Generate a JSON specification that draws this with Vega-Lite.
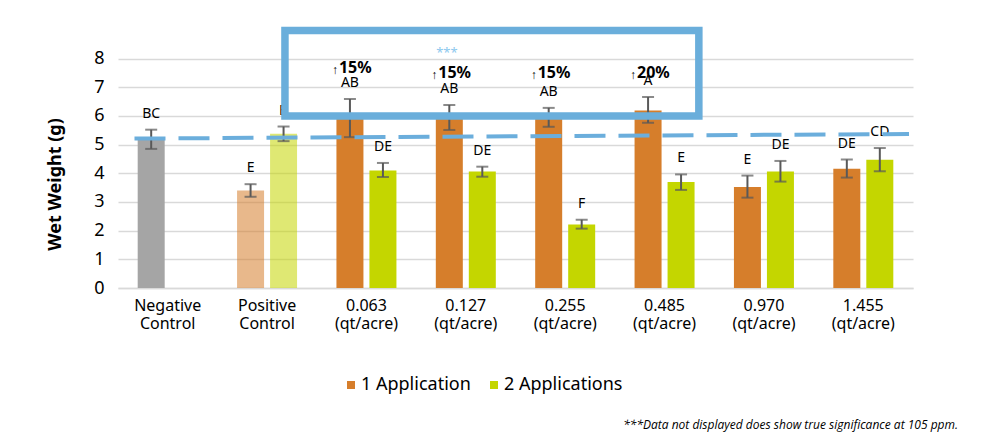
{
  "$schema": "https://vega.github.io/schema/vega-lite/v6.json",
  "autosize": {"type": "none"},
  "width": 795,
  "height": 261,
  "padding": {"left": 118, "top": 27, "right": 76, "bottom": 157},
  "background": "white",
  "config": {
    "font": "Noto Sans",
    "view": {"stroke": null},
    "axisY": {"titleFontSize": 18, "titleFontWeight": "bold", "titleFont": "Noto Sans"}
  },
  "title": {
    "text": "***Data not displayed does show true significance at 105 ppm.",
    "orient": "bottom",
    "anchor": "end",
    "fontSize": 12,
    "fontStyle": "italic",
    "fontWeight": "normal",
    "font": "Open Sans",
    "color": "#000000",
    "offset": 26,
    "dx": 45
  },
  "datasets": {
    "bars": [
      {"cat": "Negative Control", "series": "1 Application", "type": "neg", "value": 5.2, "lo": 4.85, "hi": 5.52, "letter": "BC"},
      {"cat": "Positive Control", "series": "1 Application", "type": "pos", "value": 3.4, "lo": 3.18, "hi": 3.62, "letter": "E"},
      {"cat": "Positive Control", "series": "2 Applications", "type": "pos", "value": 5.38, "lo": 5.12, "hi": 5.63, "letter": "B"},
      {"cat": "0.063 (qt/acre)", "series": "1 Application", "type": "trt", "value": 5.93, "lo": 5.26, "hi": 6.59, "letter": "AB"},
      {"cat": "0.063 (qt/acre)", "series": "2 Applications", "type": "trt", "value": 4.1, "lo": 3.87, "hi": 4.36, "letter": "DE"},
      {"cat": "0.127 (qt/acre)", "series": "1 Application", "type": "trt", "value": 5.95, "lo": 5.51, "hi": 6.38, "letter": "AB"},
      {"cat": "0.127 (qt/acre)", "series": "2 Applications", "type": "trt", "value": 4.06, "lo": 3.88, "hi": 4.23, "letter": "DE"},
      {"cat": "0.255 (qt/acre)", "series": "1 Application", "type": "trt", "value": 5.95, "lo": 5.62, "hi": 6.28, "letter": "AB"},
      {"cat": "0.255 (qt/acre)", "series": "2 Applications", "type": "trt", "value": 2.21, "lo": 2.07, "hi": 2.38, "letter": "F"},
      {"cat": "0.485 (qt/acre)", "series": "1 Application", "type": "trt", "value": 6.19, "lo": 5.76, "hi": 6.66, "letter": "A"},
      {"cat": "0.485 (qt/acre)", "series": "2 Applications", "type": "trt", "value": 3.7, "lo": 3.42, "hi": 3.96, "letter": "E"},
      {"cat": "0.970 (qt/acre)", "series": "1 Application", "type": "trt", "value": 3.52, "lo": 3.15, "hi": 3.92, "letter": "E"},
      {"cat": "0.970 (qt/acre)", "series": "2 Applications", "type": "trt", "value": 4.06, "lo": 3.71, "hi": 4.43, "letter": "DE"},
      {"cat": "1.455 (qt/acre)", "series": "1 Application", "type": "trt", "value": 4.16, "lo": 3.85, "hi": 4.48, "letter": "DE"},
      {"cat": "1.455 (qt/acre)", "series": "2 Applications", "type": "trt", "value": 4.47, "lo": 4.07, "hi": 4.88, "letter": "CD"}
    ],
    "pct": [
      {"cat": "0.063 (qt/acre)", "series": "1 Application", "label": "15%", "y": 7.68},
      {"cat": "0.127 (qt/acre)", "series": "1 Application", "label": "15%", "y": 7.48},
      {"cat": "0.255 (qt/acre)", "series": "1 Application", "label": "15%", "y": 7.5},
      {"cat": "0.485 (qt/acre)", "series": "1 Application", "label": "20%", "y": 7.48}
    ],
    "trend": [
      {"x1": 0.166, "x2": 7.96, "y1": 5.21, "y2": 5.37}
    ],
    "box": [
      {"x1": 1.68, "x2": 5.845, "y1": 6.0, "y2": 8.98}
    ],
    "stars": [
      {"x": 3.31, "y": 8.21, "label": "***"}
    ]
  },
  "layer": [
    {
      "layer": [
        {
          "data": {"name": "bars"},
          "mark": {"type": "bar", "width": 27},
          "encoding": {
            "x": {
              "field": "cat", "type": "nominal", "sort": null,
              "scale": {
                "domain": ["Negative Control", "Positive Control", "0.063 (qt/acre)", "0.127 (qt/acre)", "0.255 (qt/acre)", "0.485 (qt/acre)", "0.970 (qt/acre)", "1.455 (qt/acre)"],
                "paddingInner": 0, "paddingOuter": 0
              },
              "axis": {
                "title": null, "labelAngle": 0, "ticks": false,
                "domainColor": "#D9D9D9", "domainWidth": 1.5,
                "labelExpr": "split(datum.label, ' ')",
                "labelFontSize": 16, "labelColor": "#000000", "labelLineHeight": 18,
                "labelPadding": 9, "labelFont": "Noto Sans"
              }
            },
            "xOffset": {
              "field": "series", "type": "nominal",
              "scale": {"domain": ["1 Application", "2 Applications"], "paddingInner": 0.18, "paddingOuter": 0.596}
            },
            "y": {
              "field": "value", "type": "quantitative",
              "scale": {"domain": [0, 9.1], "nice": false},
              "axis": {"values": [0, 1, 2, 3, 4, 5, 6, 7, 8], "title": "Wet Weight (g)", "labelOverlap": false, "titleFontSize": 18, "titleFontWeight": "bold", "titleColor": "#000000", "titleX": -63, "titleY": 157, "titleAlign": "center", "titleBaseline": "middle", "titleAngle": 270, "labelFontSize": 18, "labelColor": "#000000", "labelPadding": 14, "ticks": false, "domain": false, "gridColor": "#D9D9D9", "gridWidth": 1.5}
            },
            "color": {
              "condition": {"test": "datum.type === 'neg'", "value": "#A5A5A5"},
              "field": "series", "type": "nominal",
              "scale": {"domain": ["1 Application", "2 Applications"], "range": ["#D67E2B", "#C4D600"]},
              "legend": {
                "title": null, "orient": "none", "direction": "horizontal",
                "legendX": 224, "legendY": 349,
                "symbolType": "square", "symbolSize": 64, "symbolOpacity": 1,
                "labelFontSize": 18, "labelColor": "#000000", "labelFont": "Noto Sans",
                "columnPadding": 14, "labelOffset": 1
              }
            },
            "opacity": {
              "condition": {"test": "datum.type === 'pos'", "value": 0.55},
              "value": 1
            }
          }
        },
        {
          "data": {"name": "bars"},
          "mark": {"type": "rule", "color": "#595959", "strokeWidth": 2},
          "encoding": {
            "x": {"field": "cat", "type": "nominal", "sort": null},
            "xOffset": {"field": "series", "type": "nominal"},
            "y": {"field": "lo", "type": "quantitative", "axis": {"values": [0, 1, 2, 3, 4, 5, 6, 7, 8], "title": "Wet Weight (g)", "labelOverlap": false, "titleFontSize": 18, "titleFontWeight": "bold", "titleColor": "#000000", "titleX": -63, "titleY": 157, "titleAlign": "center", "titleBaseline": "middle", "titleAngle": 270, "labelFontSize": 18, "labelColor": "#000000", "labelPadding": 14, "ticks": false, "domain": false, "gridColor": "#D9D9D9", "gridWidth": 1.5}},
            "y2": {"field": "hi"}
          }
        },
        {
          "data": {"name": "bars"},
          "mark": {"type": "tick", "orient": "horizontal", "color": "#595959", "size": 12, "thickness": 2},
          "encoding": {
            "x": {"field": "cat", "type": "nominal", "sort": null},
            "xOffset": {"field": "series", "type": "nominal"},
            "y": {"field": "lo", "type": "quantitative", "axis": {"values": [0, 1, 2, 3, 4, 5, 6, 7, 8], "title": "Wet Weight (g)", "labelOverlap": false, "titleFontSize": 18, "titleFontWeight": "bold", "titleColor": "#000000", "titleX": -63, "titleY": 157, "titleAlign": "center", "titleBaseline": "middle", "titleAngle": 270, "labelFontSize": 18, "labelColor": "#000000", "labelPadding": 14, "ticks": false, "domain": false, "gridColor": "#D9D9D9", "gridWidth": 1.5}}
          }
        },
        {
          "data": {"name": "bars"},
          "mark": {"type": "tick", "orient": "horizontal", "color": "#595959", "size": 12, "thickness": 2},
          "encoding": {
            "x": {"field": "cat", "type": "nominal", "sort": null},
            "xOffset": {"field": "series", "type": "nominal"},
            "y": {"field": "hi", "type": "quantitative", "axis": {"values": [0, 1, 2, 3, 4, 5, 6, 7, 8], "title": "Wet Weight (g)", "labelOverlap": false, "titleFontSize": 18, "titleFontWeight": "bold", "titleColor": "#000000", "titleX": -63, "titleY": 157, "titleAlign": "center", "titleBaseline": "middle", "titleAngle": 270, "labelFontSize": 18, "labelColor": "#000000", "labelPadding": 14, "ticks": false, "domain": false, "gridColor": "#D9D9D9", "gridWidth": 1.5}}
          }
        },
        {
          "data": {"name": "bars"},
          "mark": {"type": "text", "fontSize": 14, "color": "#000000", "dy": -16, "baseline": "middle", "font": "Noto Sans"},
          "encoding": {
            "x": {"field": "cat", "type": "nominal", "sort": null},
            "xOffset": {"field": "series", "type": "nominal"},
            "y": {"field": "hi", "type": "quantitative", "axis": {"values": [0, 1, 2, 3, 4, 5, 6, 7, 8], "title": "Wet Weight (g)", "labelOverlap": false, "titleFontSize": 18, "titleFontWeight": "bold", "titleColor": "#000000", "titleX": -63, "titleY": 157, "titleAlign": "center", "titleBaseline": "middle", "titleAngle": 270, "labelFontSize": 18, "labelColor": "#000000", "labelPadding": 14, "ticks": false, "domain": false, "gridColor": "#D9D9D9", "gridWidth": 1.5}},
            "text": {"field": "letter"}
          }
        },
        {
          "data": {"name": "pct"},
          "mark": {"type": "text", "fontSize": 12, "color": "#000000", "dx": -15, "dy": 2, "baseline": "middle", "align": "center", "text": "↑"},
          "encoding": {
            "x": {"field": "cat", "type": "nominal", "sort": null},
            "xOffset": {"field": "series", "type": "nominal"},
            "y": {"field": "y", "type": "quantitative", "axis": {"values": [0, 1, 2, 3, 4, 5, 6, 7, 8], "title": "Wet Weight (g)", "labelOverlap": false, "titleFontSize": 18, "titleFontWeight": "bold", "titleColor": "#000000", "titleX": -63, "titleY": 157, "titleAlign": "center", "titleBaseline": "middle", "titleAngle": 270, "labelFontSize": 18, "labelColor": "#000000", "labelPadding": 14, "ticks": false, "domain": false, "gridColor": "#D9D9D9", "gridWidth": 1.5}}
          }
        },
        {
          "data": {"name": "pct"},
          "mark": {"type": "text", "fontSize": 16, "fontWeight": "bold", "color": "#000000", "dx": -11, "baseline": "middle", "align": "left"},
          "encoding": {
            "x": {"field": "cat", "type": "nominal", "sort": null},
            "xOffset": {"field": "series", "type": "nominal"},
            "y": {"field": "y", "type": "quantitative", "axis": {"values": [0, 1, 2, 3, 4, 5, 6, 7, 8], "title": "Wet Weight (g)", "labelOverlap": false, "titleFontSize": 18, "titleFontWeight": "bold", "titleColor": "#000000", "titleX": -63, "titleY": 157, "titleAlign": "center", "titleBaseline": "middle", "titleAngle": 270, "labelFontSize": 18, "labelColor": "#000000", "labelPadding": 14, "ticks": false, "domain": false, "gridColor": "#D9D9D9", "gridWidth": 1.5}},
            "text": {"field": "label"}
          }
        }
      ]
    },
    {
      "layer": [
        {
          "data": {"name": "trend"},
          "mark": {"type": "rule", "color": "#6BAEDC", "strokeWidth": 4, "strokeDash": [31, 13]},
          "encoding": {
            "x": {"field": "x1", "type": "quantitative", "scale": {"domain": [0, 8]}, "axis": null},
            "x2": {"field": "x2"},
            "y": {"field": "y1", "type": "quantitative", "axis": {"values": [0, 1, 2, 3, 4, 5, 6, 7, 8], "title": "Wet Weight (g)", "labelOverlap": false, "titleFontSize": 18, "titleFontWeight": "bold", "titleColor": "#000000", "titleX": -63, "titleY": 157, "titleAlign": "center", "titleBaseline": "middle", "titleAngle": 270, "labelFontSize": 18, "labelColor": "#000000", "labelPadding": 14, "ticks": false, "domain": false, "gridColor": "#D9D9D9", "gridWidth": 1.5}},
            "y2": {"field": "y2"}
          }
        },
        {
          "data": {"name": "stars"},
          "mark": {"type": "text", "fontSize": 13, "color": "#8CC8EE", "baseline": "middle", "align": "center"},
          "encoding": {
            "x": {"field": "x", "type": "quantitative", "axis": null},
            "y": {"field": "y", "type": "quantitative", "axis": {"values": [0, 1, 2, 3, 4, 5, 6, 7, 8], "title": "Wet Weight (g)", "labelOverlap": false, "titleFontSize": 18, "titleFontWeight": "bold", "titleColor": "#000000", "titleX": -63, "titleY": 157, "titleAlign": "center", "titleBaseline": "middle", "titleAngle": 270, "labelFontSize": 18, "labelColor": "#000000", "labelPadding": 14, "ticks": false, "domain": false, "gridColor": "#D9D9D9", "gridWidth": 1.5}},
            "text": {"field": "label"}
          }
        },
        {
          "data": {"name": "box"},
          "mark": {"type": "rect", "fill": null, "fillOpacity": 0, "stroke": "#6AAEDB", "strokeWidth": 7.5},
          "encoding": {
            "x": {"field": "x1", "type": "quantitative", "axis": null},
            "x2": {"field": "x2"},
            "y": {"field": "y1", "type": "quantitative", "axis": {"values": [0, 1, 2, 3, 4, 5, 6, 7, 8], "title": "Wet Weight (g)", "labelOverlap": false, "titleFontSize": 18, "titleFontWeight": "bold", "titleColor": "#000000", "titleX": -63, "titleY": 157, "titleAlign": "center", "titleBaseline": "middle", "titleAngle": 270, "labelFontSize": 18, "labelColor": "#000000", "labelPadding": 14, "ticks": false, "domain": false, "gridColor": "#D9D9D9", "gridWidth": 1.5}},
            "y2": {"field": "y2"}
          }
        }
      ]
    }
  ],
  "resolve": {"scale": {"x": "independent"}}
}
